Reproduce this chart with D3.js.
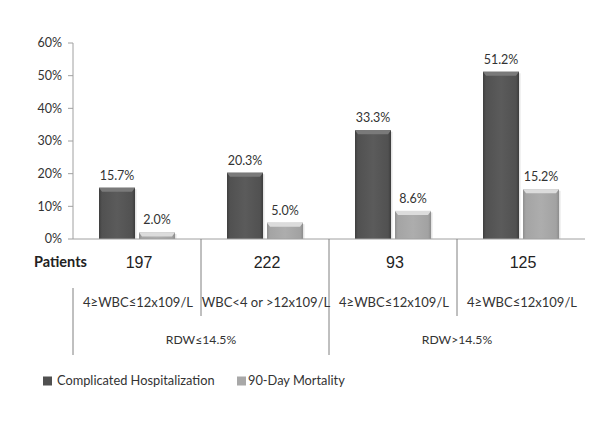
<!DOCTYPE html>
<html><head><meta charset="utf-8">
<script src="https://cdn.jsdelivr.net/npm/d3@7"></script>
<style>html,body{margin:0;padding:0;background:#fff;}svg{display:block;}</style>
</head><body><div id="chart"></div>
<script>
const groups = ["4≥WBC≤12x109/L", "WBC<4 or >12x109/L", "4≥WBC≤12x109/L", "4≥WBC≤12x109/L"];
const patients = [197, 222, 93, 125];
const complicated = [15.7, 20.3, 33.3, 51.2];
const mortality = [2.0, 5.0, 8.6, 15.2];
const seriesNames = ["Complicated Hospitalization", "90-Day Mortality"];
const rdwLabels = ["RDW≤14.5%", "RDW>14.5%"];
const yTicks = [0, 10, 20, 30, 40, 50, 60];

const W = 600, H = 428;
const svg = d3.select("#chart").append("svg").attr("width", W).attr("height", H);
const font = "Lato, 'Open Sans', sans-serif";

const x = d3.scaleBand().domain(d3.range(groups.length)).range([73, 585]).paddingInner(0).paddingOuter(0);
const xs = d3.scaleBand().domain([0, 1]).range([26, 102]).paddingInner(0.1);
const y = d3.scaleLinear().domain([0, 60]).range([239, 43]);

const defs = svg.append("defs");
function grad(id, stops) {
  const g = defs.append("linearGradient").attr("id", id).attr("x1", "0").attr("x2", "1").attr("y1", "0").attr("y2", "0");
  stops.forEach(s => g.append("stop").attr("offset", s[0]).attr("stop-color", s[1]));
}
grad("gDark", [[0, "#3e3e3e"], [0.08, "#515151"], [0.5, "#5b5b5b"], [0.92, "#515151"], [1, "#3c3c3c"]]);
grad("gLight", [[0, "#8e8e8e"], [0.08, "#a4a4a4"], [0.5, "#adadad"], [0.92, "#a2a2a2"], [1, "#8c8c8c"]]);
const topCol = ["#7a7a7a", "#dcdcdc"];
const fills = ["url(#gDark)", "url(#gLight)"];
const legendCols = ["#505050", "#a8a8a8"];

// Y axis
svg.append("line").attr("x1", 73).attr("x2", 73).attr("y1", y(60)).attr("y2", y(0)).attr("stroke", "#a0a0a0");
const yt = svg.append("g").selectAll("g").data(yTicks).join("g");
yt.append("line").attr("x1", 68).attr("x2", 73).attr("y1", d => y(d)).attr("y2", d => y(d)).attr("stroke", "#a0a0a0");
yt.append("text").attr("x", 62).attr("y", d => y(d)).attr("dy", "0.35em").attr("text-anchor", "end")
  .attr("font-family", font).attr("font-size", 12.5).attr("fill", "#333").text(d => d + "%");

// Bars
const data = groups.map((g, i) => [complicated[i], mortality[i]]);
const gg = svg.append("g").selectAll("g").data(data).join("g").attr("transform", (d, i) => `translate(${x(i)},0)`);
gg.each(function(vals) {
  const g = d3.select(this);
  vals.forEach((v, s) => {
    const bx = xs(s), bw = xs.bandwidth(), top = y(v), bot = y(0);
    g.append("rect").attr("x", bx + 1.5).attr("y", top + 1.5).attr("width", bw).attr("height", bot - top - 1.5).attr("fill", "#e4e4e4");
    g.append("rect").attr("x", bx).attr("y", top).attr("width", bw).attr("height", bot - top).attr("fill", fills[s]);
    const bev = Math.min(4, bot - top);
    g.append("path").attr("d", `M${bx},${top}L${bx + bw},${top}L${bx + bw - 3},${top + bev}L${bx + 3},${top + bev}Z`).attr("fill", topCol[s]);
    g.append("text").attr("x", bx + bw / 2).attr("y", top - 8).attr("text-anchor", "middle")
      .attr("font-family", font).attr("font-size", 12.5).attr("fill", "#333").text(v.toFixed(1) + "%");
  });
});

// X axis
svg.append("line").attr("x1", 73).attr("x2", 585).attr("y1", y(0)).attr("y2", y(0)).attr("stroke", "#a0a0a0");

// Table lines
const lineCol = "#808080";
[[1, 316], [2, 355], [3, 316]].forEach(([i, yb]) => {
  svg.append("line").attr("x1", x(i)).attr("x2", x(i)).attr("y1", y(0)).attr("y2", yb).attr("stroke", lineCol);
});
svg.append("line").attr("x1", 73).attr("x2", 73).attr("y1", 288).attr("y2", 355).attr("stroke", lineCol);

// Patients row
svg.append("text").attr("x", 34).attr("y", 262).attr("dy", "0.35em").attr("font-family", font).attr("font-weight", "bold")
  .attr("font-size", 14.5).attr("fill", "#222").text("Patients");
svg.append("g").selectAll("text").data(patients).join("text")
  .attr("x", (d, i) => x(i) + x.bandwidth() / 2 + 2).attr("y", 262).attr("dy", "0.35em").attr("text-anchor", "middle")
  .attr("font-family", "'Liberation Sans Narrow', 'Arial Narrow', sans-serif").attr("font-size", 16).attr("fill", "#222").text(d => d);

// Group labels
svg.append("g").selectAll("text").data(groups).join("text")
  .attr("x", (d, i) => x(i) + x.bandwidth() / 2 + 1).attr("y", 302).attr("dy", "0.35em").attr("text-anchor", "middle")
  .attr("font-family", font).attr("font-size", 13).attr("fill", "#333").text(d => d);

// RDW labels
const rdwX = [(73 + x(2)) / 2, (x(2) + 585) / 2];
svg.append("g").selectAll("text").data(rdwLabels).join("text")
  .attr("x", (d, i) => rdwX[i]).attr("y", 340).attr("dy", "0.35em").attr("text-anchor", "middle")
  .attr("font-family", font).attr("font-size", 12.2).attr("fill", "#333").text(d => d);

// Legend
const legX = [43, 237];
const lg = svg.append("g").selectAll("g").data(seriesNames).join("g").attr("transform", (d, i) => `translate(${legX[i]},381)`);
lg.append("rect").attr("x", 0).attr("y", -4.5).attr("width", 9).attr("height", 9).attr("fill", (d, i) => legendCols[i]);
lg.append("text").attr("x", (d, i) => i === 0 ? 14 : 11).attr("y", 0).attr("dy", "0.35em")
  .attr("font-family", font).attr("font-size", 12.8).attr("fill", "#333").text(d => d);
</script></body></html>
